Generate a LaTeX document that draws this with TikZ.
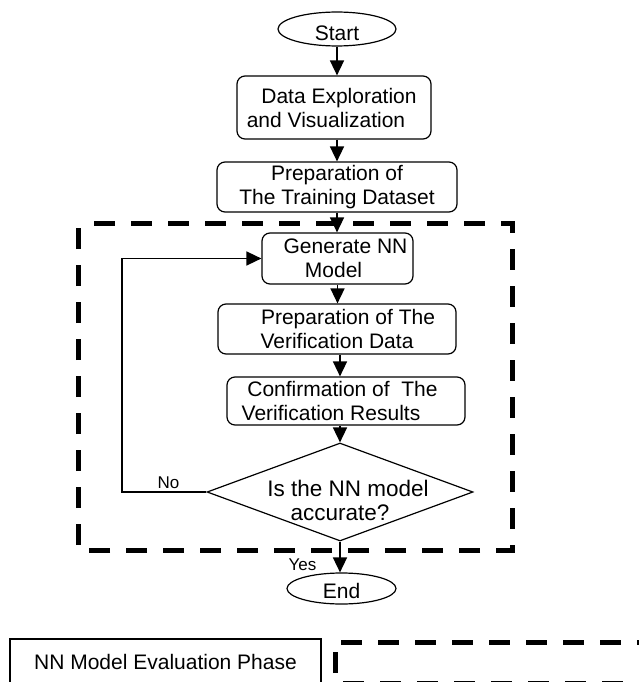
\documentclass[tikz,border=0pt]{standalone}
\usepackage{fontspec}
\setmainfont{Liberation Sans}
\usetikzlibrary{shapes.geometric,arrows.meta}

\begin{document}
\begin{tikzpicture}[x=1pt,y=-1pt,
  txt/.style={font=\fontsize{21}{24}\selectfont},
  lbl/.style={font=\fontsize{17}{20}\selectfont, inner sep=0pt, anchor=base},
  proc/.style={txt, draw, rounded corners=8pt, line width=1.2pt, align=center, inner sep=0pt},
  term/.style={txt, draw, ellipse, line width=1.2pt, inner sep=0pt, text depth=0pt},
  decision/.style={font=\fontsize{22.5}{24}\selectfont, draw, diamond, aspect=2.7,
    line width=1.2pt, align=center, inner xsep=-4pt, inner ysep=-25pt,
    minimum width=266pt, minimum height=98pt},
  flow/.style={line width=1.6pt, -{Triangle[length=15pt,width=14pt]}},
  phase/.style={line width=5pt, dash pattern=on 21pt off 16pt},
]
\fill[white] (0,0) rectangle (639,682);
\useasboundingbox (0,0) rectangle (639,682);

% evaluation phase frame
\draw[phase, dash phase=21pt] (78,223) -- (512,223) -- (512,550) -- (78,550) -- cycle;

% flow steps
\node[term, minimum width=118pt, minimum height=32pt, text height=24pt] (start) at (337,29) {Start};
\node[proc, minimum width=194pt, minimum height=63pt] (explore) at (334,107.5)
  {\kern10pt Data Exploration\\and Visualization\kern16pt};
\node[proc, minimum width=240pt, minimum height=50pt] (train) at (337,187)
  {Preparation of\\The Training Dataset};
\node[proc, minimum width=151pt, minimum height=51pt] (gen) at (337.5,258.5)
  {\kern16pt Generate NN\\Model\kern8pt};
\node[proc, minimum width=238pt, minimum height=50pt] (verdata) at (337,329)
  {\kern22pt Preparation of The\\Verification Data};
\node[proc, minimum width=238pt, minimum height=48pt] (confirm) at (346,401)
  {Confirmation of\ \ The\kern7pt\\Verification Results\kern30pt};
\node[decision] (acc) at (340,492)
  {\rule{0pt}{33pt}\kern16pt Is the NN model\\accurate?};
\node[term, minimum width=109pt, minimum height=31pt, text height=20pt] (end) at (341.5,588.5) {End};

% connectors
\draw[flow] (start.south) -- (start.south |- explore.north);
\draw[flow] (start.south |- explore.south) -- (start.south |- train.north);
\draw[flow] (train.south) -- (train.south |- gen.north);
\draw[flow] (gen.south) -- (gen.south |- verdata.north);
\draw[flow] (acc.north |- verdata.south) -- (acc.north |- confirm.north);
\draw[flow] (acc.north |- confirm.south) -- (acc.north);
\coordinate (back) at (122,492);
\draw[flow] (acc.west) -- (back) |- (gen.west);
\draw[flow] (acc.south) -- (acc.south |- end.north);

\node[lbl] (no) at (168.5,488) {No};
\node[lbl] (yes) at (302.5,570) {Yes};

% key
\node[txt, draw, line width=1.2pt, inner sep=0pt, minimum width=311pt, minimum height=45pt]
  (key) at (165.5,661.5) {NN Model Evaluation Phase};
\draw[phase, dash phase=31pt] (335,642) -- (660,642);
\draw[phase, dash phase=27pt] (335,683) -- (335,642);
\draw[phase, dash phase=29pt] (335,683) -- (660,683);
\end{tikzpicture}
\end{document}
